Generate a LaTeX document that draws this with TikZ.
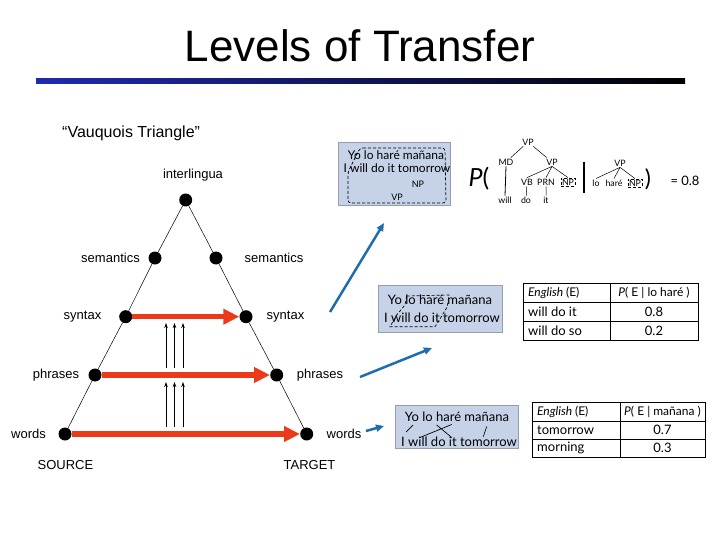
\documentclass[tikz,border=0pt]{standalone}
\usepackage{fontspec}
\setmainfont{Liberation Sans}
\newfontfamily\gillfont{Lato}
\usetikzlibrary{arrows.meta}
\definecolor{arrred}{RGB}{234,58,26}
\definecolor{arrblue}{RGB}{30,110,175}
\definecolor{insetfill}{RGB}{198,210,232}
\definecolor{insetline}{RGB}{150,158,172}
\definecolor{barblue}{RGB}{32,42,175}
\tikzset{
  dot/.style={circle,fill=black,inner sep=0pt,minimum size=13pt},
  lvl/.style={font=\fontsize{13}{15}\selectfont,inner sep=0pt},
  xfer/.style={draw=arrred,line width=5.5pt,-{Triangle[length=16pt,width=15pt]}},
  up/.style={-{Stealth[length=5pt,width=3.5pt]},line width=0.8pt},
  pointer/.style={draw=arrblue,line width=2.5pt,-{Triangle[length=8pt,width=7pt]}},
  inset/.style={fill=insetfill,draw=insetline,line width=0.6pt,inner sep=0pt},
  gill/.style={font=\gillfont\fontsize{#1}{#1}\selectfont,inner sep=0pt},
  tree/.style={font=\gillfont\fontsize{8.8}{9}\selectfont,inner sep=1pt},
  npbox/.style={draw,densely dashed,line width=0.5pt,inner sep=1pt},
  cell/.style={font=\gillfont\fontsize{13}{14}\selectfont,inner sep=0pt},
  head/.style={font=\gillfont\fontsize{12}{13}\selectfont,inner sep=0pt}
}
\begin{document}
\begin{tikzpicture}[x=1pt,y=-1pt]
\useasboundingbox (0,0) rectangle (720,540);
\node (title) at (360,46) {\fontsize{44}{48}\selectfont Levels of Transfer};
\shade[left color=barblue,right color=black] (36,78.5) rectangle (685,84);
\node[right,inner sep=0pt] (vauquois) at (62,133) {\fontsize{16}{18}\selectfont “Vauquois Triangle”};
% triangle
\path (185.7,200)node[dot](top){} (155,258)node[dot](semL){} (216,258)node[dot](semR){}
  (125.7,316.7)node[dot](synL){} (246,316.7)node[dot](synR){}
  (95,375)node[dot](phrL){} (276.7,375)node[dot](phrR){}
  (65,434)node[dot](wrdL){} (306.7,434)node[dot](wrdR){};
\draw[line width=0.5pt](wrdL)--(phrL)--(synL)--(semL)--(top)--(semR)--(synR)--(phrR)--(wrdR);
\path (193,175)node[lvl](interlingua){interlingua}
  (110.5,258)node[lvl](semLtext){semantics} (274,258)node[lvl](semRtext){semantics}
  (82.5,316.7)node[lvl](synLtext){syntax} (285.5,316.7)node[lvl](synRtext){syntax}
  (56,375)node[lvl](phrLtext){phrases} (320,375)node[lvl](phrRtext){phrases}
  (28.5,434)node[lvl](wrdLtext){words} (344,434)node[lvl](wrdRtext){words}
  (65.5,465)node[lvl](source){SOURCE} (309.5,465)node[lvl](target){TARGET};
\draw[xfer](synL)--(synR);
\draw[xfer](phrL)--(phrR);
\draw[xfer](wrdL)--(wrdR);
\foreach \x[count=\i] in {166,174.5,183}{
  \coordinate (upA\i) at (\x,368); \coordinate (upB\i) at (\x,323);
  \coordinate (loA\i) at (\x,427); \coordinate (loB\i) at (\x,382);
  \draw[up](upA\i)--(upB\i);
  \draw[up](loA\i)--(loB\i);
}
% pointers to the examples
\coordinate (synFrom) at (330,312); \coordinate (synTo) at (384,223);
\coordinate (phrFrom) at (360,377); \coordinate (phrTo) at (432,348);
\coordinate (wrdFrom) at (366,431); \coordinate (wrdTo) at (384,426);
\draw[pointer](synFrom)--(synTo);
\draw[pointer](phrFrom)--(phrTo);
\draw[pointer](wrdFrom)--(wrdTo);
% syntax example
\node[inset,minimum width=112pt,minimum height=63pt](synBox) at (394,173.5){};
\node[gill=12](synEs) at (396,155){Yo lo haré mañana};
\node[gill=12](synEn) at (397,168.5){I will do it tomorrow};
\node[gill=9](synNP) at (418,184){NP};
\node[gill=9](synVP) at (397,197){VP};
\draw[densely dashed,line width=0.7pt,rounded corners=3pt](360,148)--(445,148)--(446,203)--(348,203)--(348,172)--cycle;
\path (528,142)node[tree](vpA){VP} (506,162)node[tree](md){MD} (552,162)node[tree](vpB){VP}
  (527,182)node[tree](vb){VB} (546,182)node[tree](prn){PRN} (568,182)node[tree,npbox](npA){NP}
  (505,200)node[tree](will){will} (526,200)node[tree](do){do} (546,200)node[tree](it){it};
\draw[line width=0.5pt](vpA)--(md) (vpA)--(vpB) (vpB.south)--(vb.north) (vpB.south)--(prn.north) (vpB.south)--(npA.north)
  (vb)--(do) (prn)--(it);
\draw[line width=0.8pt](md.south)--(will.north);
\node[gill=25](pOpen) at (479,179){\itshape P\upshape(};
\coordinate (barTop) at (584,162); \coordinate (barBot) at (584,193);
\draw[line width=1.8pt](barTop)--(barBot);
\path (620,163)node[tree](vpC){VP} (596,183)node[tree](lo){lo} (614,183)node[tree](hare){haré}
  (635,183)node[tree,npbox](npB){NP};
\draw[line width=0.5pt](vpC.south)--(lo.north) (vpC.south)--(hare.north) (vpC.south)--(npB.north);
\node[gill=23](pClose) at (648,179){)};
\node[gill=13](pVal) at (685,181){= 0.8};
% phrase example
\node[inset,minimum width=124pt,minimum height=47pt](phrBox) at (440,308.5){};
\node[gill=13](phrEs) at (440,300){Yo lo haré mañana};
\node[gill=13](phrEn) at (442,318){I will do it tomorrow};
\draw[densely dashed,line width=0.7pt](406.7,296)--(449,295)--(447.3,306.7)--(438.3,321.7)--(435,326.7)--(390,326.7)--(396.7,315)--(405,305)--cycle;
\draw[line width=0.6pt](523,283) rectangle (698,340) (523,302)--(698,302) (523,321)--(698,321) (610,283)--(610,340);
\path (528,292.5)node[head,right](hdA){\itshape English \upshape(E)}
  (654,292.5)node[head](hdB){\itshape P\upshape( E | lo haré )}
  (528,311.5)node[cell,right](rowA){will do it} (654,311.5)node[cell](valA){0.8}
  (528,330.5)node[cell,right](rowB){will do so} (654,330.5)node[cell](valB){0.2};
% word example
\node[inset,minimum width=123pt,minimum height=43pt](wrdBox) at (456.5,426.5){};
\node[gill=13](wrdEs) at (457,416.5){Yo lo haré mañana};
\node[gill=13](wrdEn) at (459,442){I will do it tomorrow};
\coordinate (yo) at (413,425); \coordinate (i) at (406,432);
\coordinate (hareA) at (451.7,424.5); \coordinate (willA) at (420,437.5);
\coordinate (loA) at (436.7,425); \coordinate (itA) at (451.7,437.5);
\coordinate (manana) at (486.7,426.5); \coordinate (tomorrow) at (483.3,436.7);
\draw[line width=0.7pt](yo)--(i) (hareA)--(willA) (loA)--(itA) (manana)--(tomorrow);
\draw[line width=0.6pt](532,402) rectangle (705,457) (532,421)--(705,421) (532,439)--(705,439) (620,402)--(620,457);
\path (537,411.5)node[head,right](hdC){\itshape English \upshape(E)}
  (662.5,411.5)node[head](hdD){\itshape P\upshape( E | mañana )}
  (537,430)node[cell,right](rowC){tomorrow} (662.5,430)node[cell](valC){0.7}
  (537,448)node[cell,right](rowD){morning} (662.5,448)node[cell](valD){0.3};
\end{tikzpicture}
\end{document}
